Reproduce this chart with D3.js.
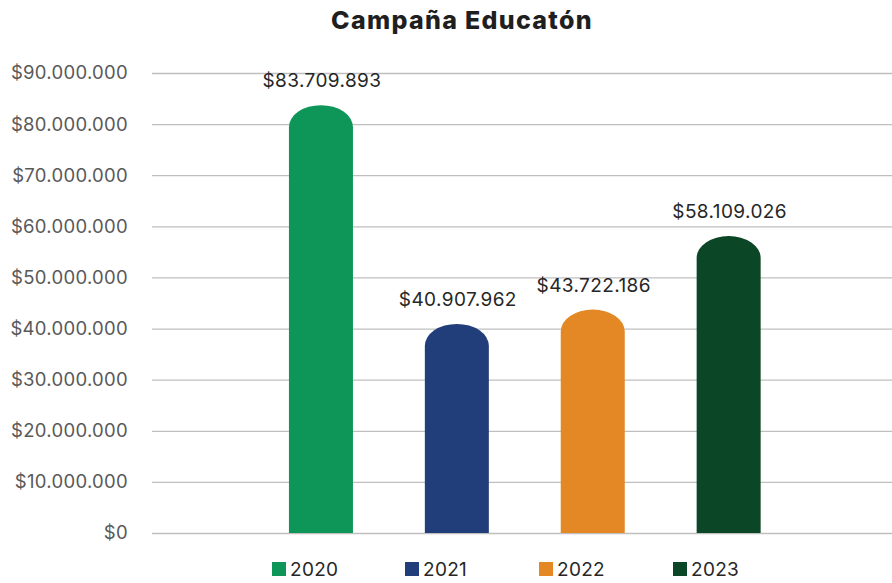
<!DOCTYPE html>
<html>
<head>
<meta charset="utf-8">
<script src="https://cdn.jsdelivr.net/npm/d3@7"></script>
<style>
  body { margin: 0; background: #fff; }
  svg { display: block; }
</style>
</head>
<body>
<svg id="chart" width="892" height="583"></svg>
<script>
const years = ["2020", "2021", "2022", "2023"];
const values = [83709893, 40907962, 43722186, 58109026];
const colors = ["#0E9558", "#213E7A", "#E38825", "#0B4627"];
const yTicks = [0, 10000000, 20000000, 30000000, 40000000, 50000000, 60000000, 70000000, 80000000, 90000000];
const title = "Campaña Educatón";

const svg = d3.select("#chart");
const plot = { left: 152, right: 892, top: 73, bottom: 533 };

const fmt = v => "$" + d3.format(",")(v).replace(/,/g, ".");

const y = d3.scaleLinear().domain([0, 90000000]).range([plot.bottom, plot.top]);
const x = d3.scaleBand().domain(years).range([253, 796.6]).paddingInner(0.529).paddingOuter(0.2645);

// title
svg.append("text")
  .attr("x", 462).attr("y", 29)
  .attr("text-anchor", "middle")
  .attr("font-family", "Inter, 'Open Sans', sans-serif")
  .attr("font-weight", 800)
  .attr("font-size", 25)
  .attr("letter-spacing", 1.3)
  .attr("fill", "#1f1f1f")
  .text(title);

// grid + y axis
const yAxis = d3.axisLeft(y).tickValues(yTicks).tickFormat(fmt)
  .tickSize(-(plot.right - plot.left)).tickPadding(24);
const gy = svg.append("g").attr("transform", `translate(${plot.left},0)`).call(yAxis);
gy.select(".domain").remove();
gy.selectAll(".tick line").attr("stroke", "#bfbfbf").attr("stroke-width", 1.3);
gy.selectAll(".tick text")
  .attr("font-family", "Inter, 'Open Sans', sans-serif")
  .attr("font-size", 18.5)
  .attr("letter-spacing", 0.3)
  .attr("fill", "#595959");

// bars with rounded tops
const ry = 22;
function barPath(d, i) {
  const x0 = x(years[i]), w = x.bandwidth();
  const top = y(d), bot = y(0);
  const r = w / 2;
  return `M${x0},${bot} L${x0},${top + ry} A${r},${ry} 0 0 1 ${x0 + w},${top + ry} L${x0 + w},${bot} Z`;
}
svg.append("g").selectAll("path").data(values).join("path")
  .attr("d", (d, i) => barPath(d, i))
  .attr("fill", (d, i) => colors[i]);

// data labels
svg.append("g").selectAll("text").data(values).join("text")
  .attr("x", (d, i) => x(years[i]) + x.bandwidth() / 2 + 1)
  .attr("y", d => y(d) - 18)
  .attr("text-anchor", "middle")
  .attr("font-family", "Inter, 'Open Sans', sans-serif")
  .attr("font-size", 19)
  .attr("letter-spacing", 0.4)
  .attr("fill", "#262626")
  .text(d => fmt(d));

// legend
const legendX = [272, 405, 539, 673];
const lg = svg.append("g").selectAll("g").data(years).join("g")
  .attr("transform", (d, i) => `translate(${legendX[i]},562)`);
lg.append("rect").attr("width", 14).attr("height", 14).attr("fill", (d, i) => colors[i]);
lg.append("text").attr("x", 18).attr("y", 13.5)
  .attr("font-family", "Inter, 'Open Sans', sans-serif")
  .attr("font-size", 19)
  .attr("letter-spacing", 0.3)
  .attr("fill", "#262626")
  .text(d => d);
</script>
</body>
</html>
